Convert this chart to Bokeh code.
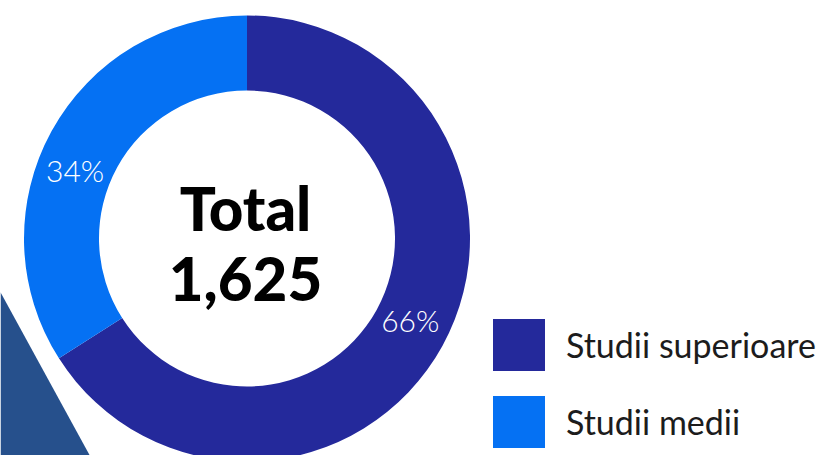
import math
from bokeh.plotting import figure
from bokeh.models import Range1d, ColumnDataSource, Legend, LegendItem
from bokeh.core.properties import value
from bokeh.embed import file_html
from bokeh.resources import INLINE

# ---- data ----
categories = ["Studii superioare", "Studii medii"]
counts = [1072, 553]
colors = ["#24299b", "#0571f3"]
center_title = "Total"

# ---- layout / style ----
W, H = 818, 455
CX, CY = 246.5, 217.0          # donut centre (data units = screen px, y up)
R_OUT, R_IN = 223.0, 148.0
LABEL_R = 184.0
LABEL_DY = 3.0
label_nudge_deg = [1.3, 7.8]
deco_color = "#26508c"

total = sum(counts)
starts, ends, mids = [], [], []
cum = 0.0
for v in counts:
    frac = v / total
    end = math.pi / 2 - 2 * math.pi * cum
    start = math.pi / 2 - 2 * math.pi * (cum + frac)
    starts.append(start)
    ends.append(end)
    mids.append((start + end) / 2)
    cum += frac

pct_text = [f"{round(100 * v / total)}%" for v in counts]
lab_x = [CX + LABEL_R * math.cos(m + math.radians(n)) for m, n in zip(mids, label_nudge_deg)]
lab_y = [CY + LABEL_DY + LABEL_R * math.sin(m + math.radians(n)) for m, n in zip(mids, label_nudge_deg)]

src = ColumnDataSource(dict(cat=categories, count=counts, color=colors,
                            start=starts, end=ends))

p = figure(width=W, height=H, x_range=Range1d(0, W), y_range=Range1d(0, H),
           output_backend="svg", toolbar_location=None, min_border=0,
           outline_line_color=None, background_fill_color="white",
           border_fill_color="white")
p.axis.visible = False
p.xgrid.visible = False
p.ygrid.visible = False

# decorative triangle bottom-left
p.patch(x=[0, 0, 89.3], y=[0, 163.3, 0], fill_color=deco_color, line_color=None)

wedges = p.annular_wedge(x=CX, y=CY, inner_radius=R_IN, outer_radius=R_OUT,
                         start_angle="start", end_angle="end", direction="anticlock",
                         fill_color="color", line_color=None, source=src)

p.text(x=lab_x, y=lab_y, text=pct_text, text_align="center", text_baseline="middle",
       text_color="white", text_font=value("Lato Light"), text_font_size="30px")

p.text(x=[CX - 1.5], y=[CY + 31], text=[center_title], text_align="center",
       text_baseline="middle", text_color="black", text_font=value("Lato Black"),
       text_font_style="normal", text_font_size="60px")
p.text(x=[CX - 1.5], y=[CY - 40], text=[f"{total:,}"], text_align="center",
       text_baseline="middle", text_color="black", text_font=value("Lato Black"),
       text_font_style="normal", text_font_size="60px")

items = [LegendItem(label=c, renderers=[wedges], index=i) for i, c in enumerate(categories)]
legend = Legend(items=items, location=(486, 1), padding=0, margin=0, spacing=12,
                glyph_width=65, glyph_height=65, label_standoff=15,
                label_text_font="Lato", label_text_font_size="34px",
                label_text_color="#1c1c1c", border_line_color=None,
                background_fill_alpha=0)
p.add_layout(legend, "center")

open("out.html", "w").write(file_html(p, INLINE))
